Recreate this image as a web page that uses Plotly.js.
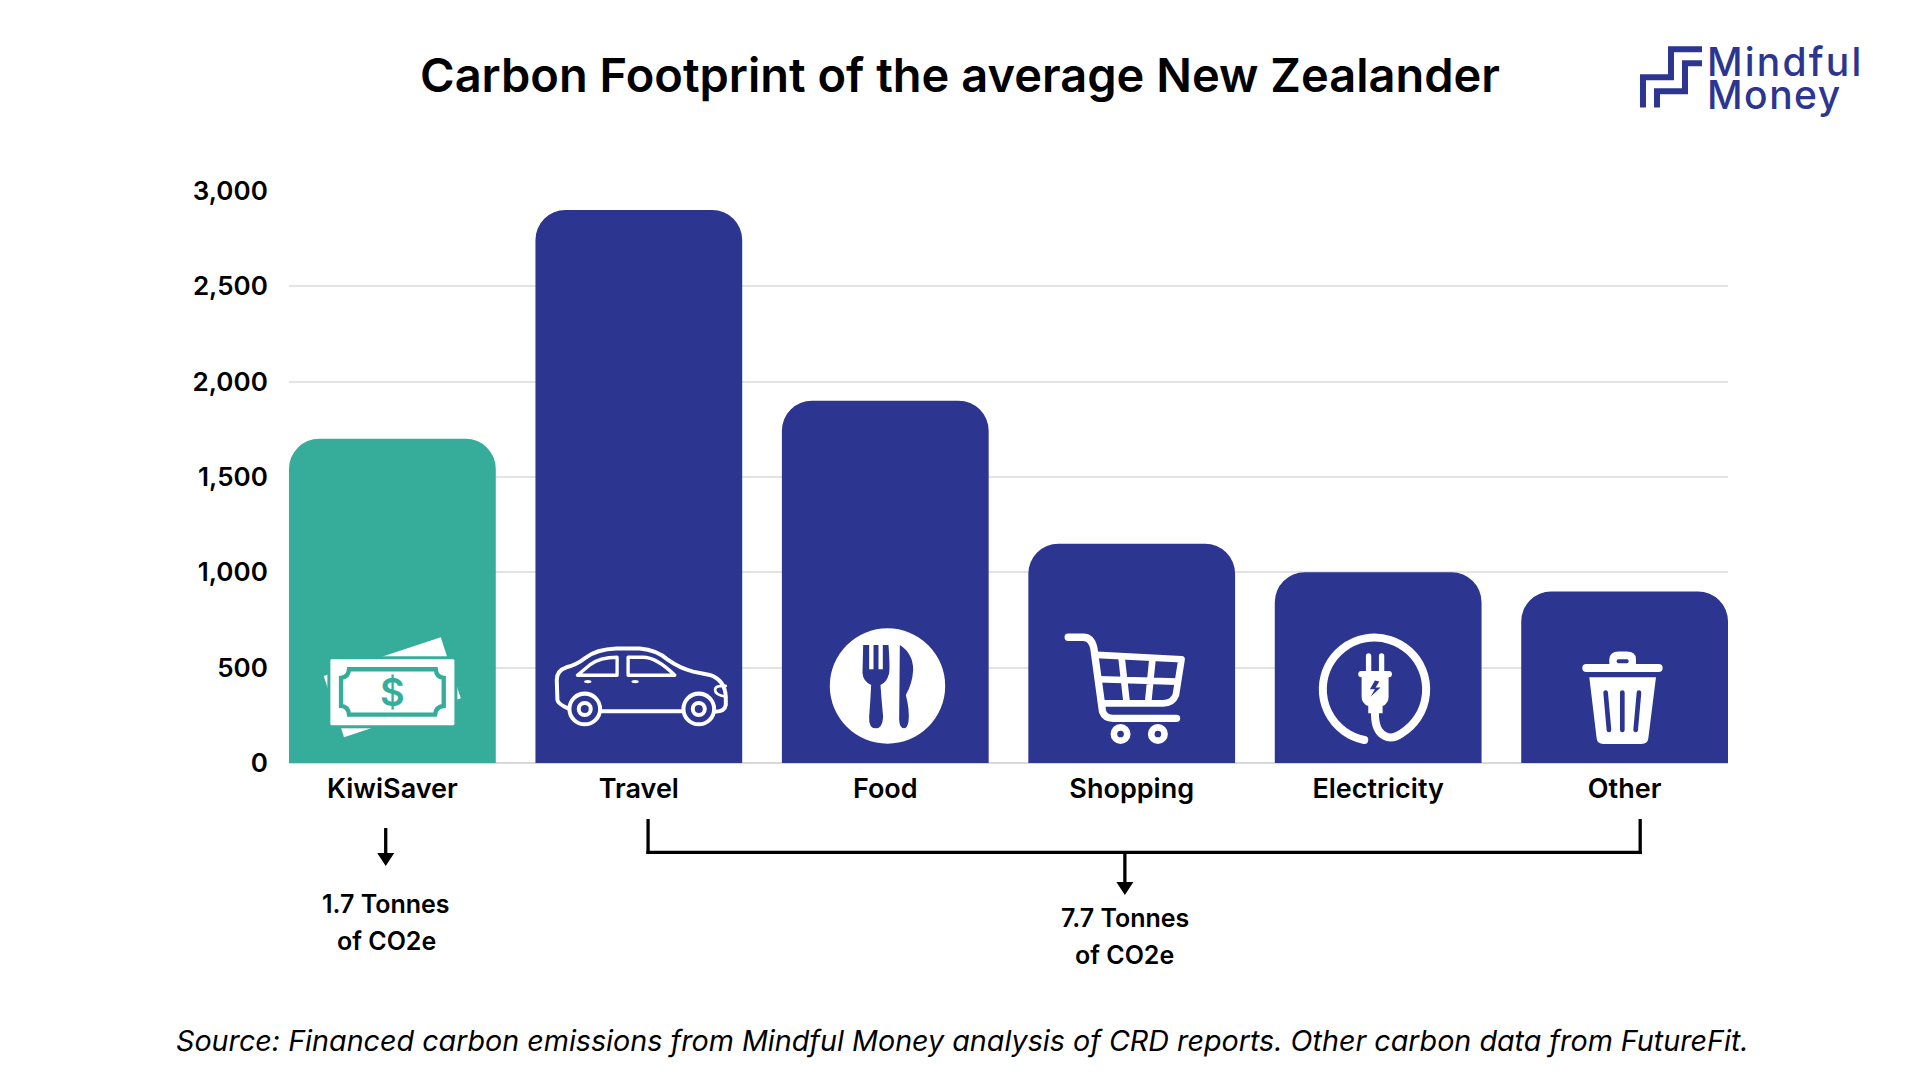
<!DOCTYPE html>
<html>
<head>
<meta charset="utf-8">
<script src="https://cdn.plot.ly/plotly-3.0.1.min.js"></script>
<style>
html, body { margin: 0; padding: 0; background: #fff; }
#chart { width: 1920px; height: 1080px; }
</style>
</head>
<body>
<div id="chart"></div>
<script>
var categories = ["KiwiSaver", "Travel", "Food", "Shopping", "Electricity", "Other"];
var footprint = [1700, 2900, 1900, 1150, 1000, 900];
var barColors = ["#36ad9b", "#2c3590", "#2c3590", "#2c3590", "#2c3590", "#2c3590"];
var yTicks = [0, 500, 1000, 1500, 2000, 2500, 3000];

var NAVY = "#2c3590", TEAL = "#36ad9b";
var FONT = "Inter, sans-serif";
var W = 1920, H = 1080;
var L = 289.3, R = 1728, T = 190.35, B = 763;

// page pixels -> paper coordinates, for everything outside the axes
function px(x) { return (x - L) / (R - L); }
function py(y) { return (B - y) / (B - T); }

function label(text, x, y, size, opts) {
    opts = opts || {};
    return {
        text: text, xref: 'paper', yref: 'paper', x: px(x), y: py(y),
        xanchor: opts.anchor || 'center', yanchor: 'middle', showarrow: false,
        font: { family: opts.family || FONT, size: size, color: opts.color || '#000', weight: opts.weight || 600 }
    };
}

function line(x0, y0, x1, y1, color, width) {
    return {
        type: 'line', xref: 'paper', yref: 'paper',
        x0: px(x0), y0: py(y0), x1: px(x1), y1: py(y1),
        line: { color: color || '#000', width: width || 3.3 }
    };
}

function arrowHead(x, y) {
    return {
        type: 'path', xref: 'paper', yref: 'paper', fillcolor: '#000', line: { width: 0 },
        path: 'M' + px(x - 8.5) + ',' + py(y - 13) + ' L' + px(x + 8.5) + ',' + py(y - 13) + ' L' + px(x) + ',' + py(y) + ' Z'
    };
}

// icons are drawn at 3x in a 500x200 box placed at page position ox, oy
function icon(ox, oy, body) {
    var svg = '<svg xmlns="http://www.w3.org/2000/svg" viewBox="0 0 1500 600" width="1500" height="600">' + body + '</svg>';
    return {
        source: 'data:image/svg+xml;base64,' + btoa(svg),
        xref: 'paper', yref: 'paper', x: px(ox), y: py(oy),
        sizex: 500 / (R - L), sizey: 200 / (B - T),
        xanchor: 'left', yanchor: 'top', sizing: 'stretch', layer: 'above'
    };
}

var moneyIcon = ''
    + '<polygon points="483,112 543,295 193,412 132,228" fill="#fff"/>'
    + '<rect x="143" y="169" width="390" height="216" fill="' + TEAL + '"/>'
    + '<rect x="152" y="178" width="372" height="198" rx="4" fill="#fff"/>'
    + '<path d="M208,208 L468,208 Q470,232 492,234 L492,318 Q468,320 466,344 L208,344 Q206,320 184,318 L184,234 Q206,232 208,208 Z" fill="none" stroke="' + TEAL + '" stroke-width="13"/>';

var carIcon = '<g fill="none" stroke="#fff" stroke-width="12" stroke-linejoin="round" stroke-linecap="round">'
    + '<path d="M865,325 Q835,312 833,300 L831,240 Q830,212 860,202 Q890,195 915,175 Q950,148 1010,146 L1080,146 Q1130,150 1165,180 Q1200,205 1240,215 L1290,225 Q1335,240 1338,290 L1338,315 Q1335,335 1305,335"/>'
    + '<path d="M965,334 L1207,334"/>'
    + '<circle cx="915" cy="327" r="46"/><circle cx="915" cy="327" r="18"/>'
    + '<circle cx="1257" cy="327" r="46"/><circle cx="1257" cy="327" r="18"/>'
    + '<path d="M893,226 L1012,226 L1012,172 Q960,172 930,195 Z" stroke-width="10"/>'
    + '<path d="M1045,172 L1045,226 L1185,226 Q1130,172 1090,172 Z" stroke-width="10"/>'
    + '<path d="M1338,258 Q1306,256 1306,270 Q1306,285 1338,290" stroke-width="8"/>'
    + '</g>'
    + '<ellipse cx="924" cy="245" rx="11" ry="5" fill="#fff"/><ellipse cx="1066" cy="245" rx="11" ry="5" fill="#fff"/>';

var plateIcon = '<circle cx="323" cy="258" r="173" fill="#fff"/>'
    + '<path d="M250,135 L326,135 Q332,220 326,225 Q322,245 302,255 Q305,300 310,350 Q308,385 288,385 Q266,385 268,350 Q272,300 274,255 Q250,245 248,220 Z" fill="' + NAVY + '"/>'
    + '<rect x="268" y="130" width="13" height="78" fill="#fff"/><rect x="296" y="130" width="13" height="78" fill="#fff"/>'
    + '<path d="M360,135 Q400,160 400,210 Q398,250 378,285 Q390,330 386,365 Q382,385 372,385 Q360,385 358,360 Z" fill="' + NAVY + '"/>';

var cartIcon = '<g fill="none" stroke="#fff" stroke-linecap="round" stroke-linejoin="round">'
    + '<path d="M865,112 L910,112 Q935,112 942,145 L968,335 Q975,355 1000,355 L1190,355" stroke-width="22"/>'
    + '<path d="M950,165 L1205,178 L1188,285 Q1178,310 1150,310 L975,310" stroke-width="20"/>'
    + '<path d="M957,238 L1192,245 M1025,172 L1040,305 M1118,175 L1105,305" stroke-width="20"/>'
    + '</g>'
    + '<circle cx="1022" cy="402" r="30" fill="#fff"/><circle cx="1022" cy="402" r="10" fill="' + NAVY + '"/>'
    + '<circle cx="1134" cy="402" r="30" fill="#fff"/><circle cx="1134" cy="402" r="10" fill="' + NAVY + '"/>';

var plugIcon = '<path d="M313,420 A155,155 0 1 1 425,400 Q395,420 375,408 Q345,395 345,340" fill="none" stroke="#fff" stroke-width="24" stroke-linecap="round"/>'
    + '<rect x="318" y="160" width="16" height="60" rx="8" fill="#fff"/><rect x="357" y="160" width="16" height="60" rx="8" fill="#fff"/>'
    + '<rect x="295" y="213" width="101" height="19" rx="9" fill="#fff"/>'
    + '<path d="M305,225 L386,225 L386,290 Q386,310 368,318 L368,340 L325,340 L325,318 Q305,310 305,290 Z" fill="#fff"/>'
    + '<polygon points="345,242 330,268 345,268 332,290 362,263 347,263 358,245" fill="' + NAVY + '"/>';

var binIcon = '<path d="M979,204 L1196,204" stroke="#fff" stroke-width="24" stroke-linecap="round"/>'
    + '<path d="M1048,195 L1048,178 Q1050,155 1075,155 L1100,155 Q1128,155 1128,178 L1128,195 Z" fill="#fff"/>'
    + '<rect x="1070" y="178" width="36" height="12" rx="5" fill="' + NAVY + '"/>'
    + '<path d="M988,232 L1188,232 L1165,415 Q1163,432 1145,432 L1030,432 Q1012,432 1010,415 Z" fill="#fff"/>'
    + '<path d="M1037,278 L1047,390 M1087,278 L1087,390 M1137,278 L1127,390" stroke="' + NAVY + '" stroke-width="14" stroke-linecap="round"/>';

var trace = {
    type: 'bar',
    x: categories,
    y: footprint,
    marker: { color: barColors, line: { width: 0 } },
    hoverinfo: 'x+y'
};

var layout = {
    width: W, height: H,
    paper_bgcolor: '#fff', plot_bgcolor: '#fff',
    showlegend: false,
    bargap: 0.161,
    barcornerradius: 30,
    margin: { l: L, r: W - R, t: T, b: H - B, pad: 0, autoexpand: false },
    font: { family: FONT, color: '#000' },
    title: {
        text: 'Carbon Footprint of the average New Zealander',
        x: 960 / W, xanchor: 'center', y: 1 - 76 / H, yanchor: 'middle',
        font: { family: FONT, size: 47, color: '#000', weight: 600 }
    },
    xaxis: {
        type: 'category', range: [-0.4195, 5.4195],
        showgrid: false, showline: false, zeroline: false,
        ticks: 'outside', ticklen: 2, tickcolor: 'rgba(0,0,0,0)',
        tickfont: { family: FONT, size: 27, color: '#000', weight: 600 }
    },
    yaxis: {
        range: [0, 3005], tickvals: yTicks, tickformat: ',d',
        showgrid: true, gridcolor: '#e3e3e3', gridwidth: 1.5,
        zeroline: true, zerolinecolor: '#d9d9d9', zerolinewidth: 1.5,
        ticks: 'outside', ticklen: 15, tickcolor: 'rgba(0,0,0,0)',
        tickfont: { family: FONT, size: 26, color: '#000', weight: 600 }
    },
    shapes: [
        line(386, 828, 386, 856),
        arrowHead(386, 866),
        line(648.3, 819, 648.3, 854),
        line(646.6, 852.3, 1642, 852.3),
        line(1640.2, 819, 1640.2, 854),
        line(1125, 852, 1125, 885),
        arrowHead(1125, 895),
        // logo steps
        { type: 'path', xref: 'paper', yref: 'paper', fillcolor: 'rgba(0,0,0,0)', line: { color: NAVY, width: 6 },
          path: 'M' + px(1643) + ',' + py(108) + ' L' + px(1643) + ',' + py(77.7) + ' L' + px(1671) + ',' + py(77.7) + ' L' + px(1671) + ',' + py(49.7) + ' L' + px(1702) + ',' + py(49.7) },
        { type: 'path', xref: 'paper', yref: 'paper', fillcolor: 'rgba(0,0,0,0)', line: { color: NAVY, width: 6 },
          path: 'M' + px(1657) + ',' + py(108) + ' L' + px(1657) + ',' + py(91.7) + ' L' + px(1685) + ',' + py(91.7) + ' L' + px(1685) + ',' + py(63.7) + ' L' + px(1702) + ',' + py(63.7) }
    ],
    images: [
        icon(280, 600, moneyIcon + carIcon),
        icon(780, 600, plateIcon + cartIcon),
        icon(1260, 600, plugIcon + binIcon)
    ],
    annotations: [
        label('<span style="letter-spacing:2.2px">Mindful</span>', 1705, 62, 39, { anchor: 'left', color: NAVY, weight: 500 }),
        label('<span style="letter-spacing:1.5px">Money</span>', 1705, 95, 39, { anchor: 'left', color: NAVY, weight: 500 }),
        label('$', 392.7, 692, 38, { color: TEAL }),
        label('1.7 Tonnes', 386.5, 904, 25),
        label('of CO2e', 386.5, 941, 25),
        label('7.7 Tonnes', 1125, 918.3, 25),
        label('of CO2e', 1125, 955, 25),
        label('<i>Source: Financed carbon emissions from Mindful Money analysis of CRD reports. Other carbon data from FutureFit.</i>', 962.5, 1040.5, 28.7, { weight: 400 })
    ]
};

Plotly.newPlot('chart', [trace], layout, { displayModeBar: false, responsive: false });
</script>
</body>
</html>
